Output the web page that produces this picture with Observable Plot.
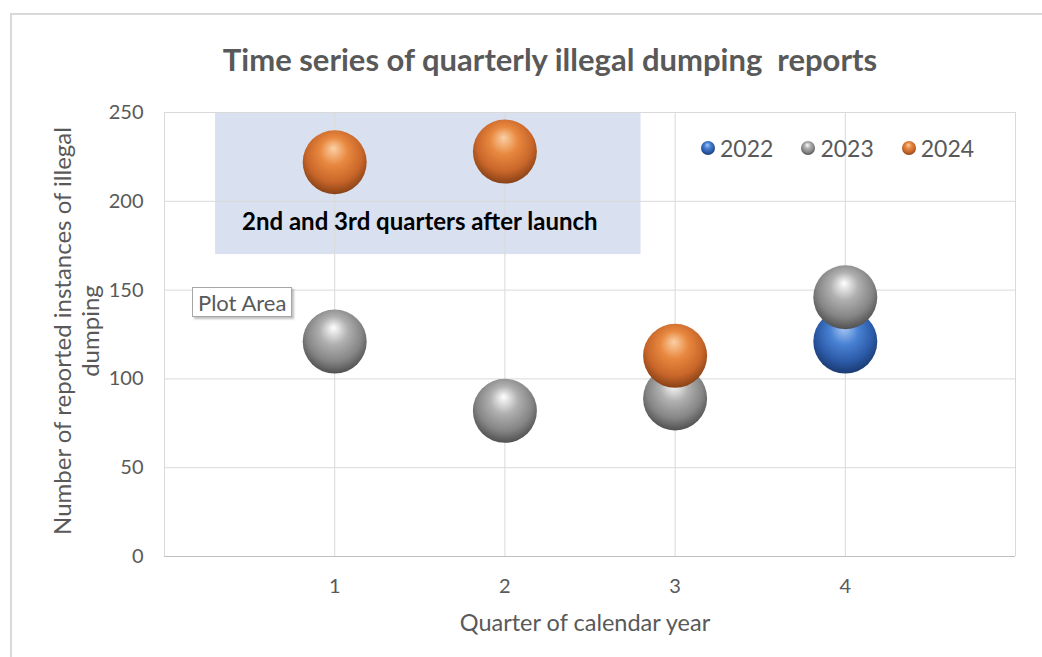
<!DOCTYPE html>
<html><head><meta charset="utf-8">
<script src="https://cdn.jsdelivr.net/npm/d3@7"></script>
<script src="https://cdn.jsdelivr.net/npm/@observablehq/plot@0.6"></script>
<style>
body{margin:0;background:#fff;}
#wrap{position:relative;width:1042px;height:657px;overflow:hidden;font-family:Lato,"Open Sans",sans-serif;background:#fff;}
#frame{position:absolute;left:10px;top:13px;width:1100px;height:700px;border:2px solid #d9d9d9;box-sizing:border-box;pointer-events:none;}
#title{position:absolute;left:0;width:1100px;top:41px;text-align:center;font-size:31px;font-weight:bold;color:#595959;white-space:pre;line-height:37px;}
#legend{position:absolute;left:700px;top:134px;display:flex;gap:27px;font-size:23px;color:#595959;}
#legend .item{display:flex;align-items:center;gap:4px;}
#tip{position:absolute;left:192px;top:287px;height:30px;line-height:30px;padding:0 5px;border:1px solid #a6a6a6;background:#fff;font-size:22px;color:#595959;box-shadow:2px 2px 2px rgba(0,0,0,0.25);box-sizing:border-box;}
#xlabel{position:absolute;left:385px;width:400px;top:607px;text-align:center;font-size:23.5px;color:#595959;line-height:30px;}
#ylabel{position:absolute;left:76px;top:331px;width:500px;transform:translate(-50%,-50%) rotate(-90deg);text-align:center;font-size:24px;color:#595959;line-height:28px;}
</style></head><body>
<div id="wrap"><div id="chart"></div><div id="frame"></div>
<div id="title">Time series of quarterly illegal dumping  reports</div>
<div id="legend"></div>
<div id="tip">Plot Area</div>
<div id="xlabel">Quarter of calendar year</div>
<div id="ylabel">Number of reported instances of illegal<br>dumping</div>
</div>
<script>
// ---- data ----
const quarters = [1, 2, 3, 4];
const years = ["2022", "2023", "2024"];
const values2022 = [null, null, null, 121];
const values2023 = [121, 82, 89, 146];
const values2024 = [222, 228, 113, null];
const xTicks = [1, 2, 3, 4];
const yTicks = [0, 50, 100, 150, 200, 250];
const highlightX = [0.3, 2.8];
const highlightY = [170, 250];
const annotationText = ["2nd and 3rd quarters after launch"];
const annotationX = [1.5];
const annotationY = [188];

const series = {"2022": values2022, "2023": values2023, "2024": values2024};
const data = [];
years.forEach(yr => quarters.forEach((q, i) => {
  if (series[yr][i] != null) data.push({year: yr, quarter: q, value: series[yr][i]});
}));
const highlight = [{x1: highlightX[0], x2: highlightX[1], y1: highlightY[0], y2: highlightY[1]}];
const annotations = annotationText.map((t, i) => ({text: t, x: annotationX[i], y: annotationY[i]}));

const font = 'Lato, "Open Sans", sans-serif';
const plot = Plot.plot({
  width: 1042, height: 657,
  marginLeft: 164, marginRight: 27, marginTop: 112, marginBottom: 101,
  style: {fontFamily: font, fontSize: "20px", color: "#595959", background: "transparent"},
  x: {domain: [0, 5]},
  y: {domain: [0, 250]},
  marks: [
    Plot.rect(highlight, {x1: "x1", x2: "x2", y1: "y1", y2: "y2", fill: "#d9e1f0"}),
    Plot.gridY(yTicks, {stroke: "#d9d9d9", strokeOpacity: 1}),
    Plot.gridX([0, ...xTicks, 5], {stroke: "#d9d9d9", strokeOpacity: 1}),
    Plot.ruleY([0], {stroke: "#bfbfbf"}),
    ...years.map(yr => Plot.dot(data.filter(d => d.year === yr), {x: "quarter", y: "value", r: 32, fill: `url(#sphere-${yr})`, stroke: "none"})),
    Plot.text(annotations, {x: "x", y: "y", text: "text", fontWeight: "bold", fontSize: 24, fill: "#000"}),
    Plot.axisX(xTicks, {tickSize: 0, tickPadding: 22, fontSize: 20, tickFormat: "d", label: null}),
    Plot.axisY(yTicks, {tickSize: 0, tickPadding: 21, fontSize: 20, tickFormat: "d", label: null})
  ]
});

const grads = {
  "2022": ["#a9c8f5", "#4a82d4", "#2c5ba8", "#173366"],
  "2023": ["#ffffff", "#b0b0b0", "#858585", "#454545"],
  "2024": ["#fbd0a6", "#e8883f", "#c9662a", "#7a3a12"]
};
const defs = d3.select(plot).insert("defs", ":first-child");
function addGrad(id, c) {
  const g = defs.append("radialGradient").attr("id", id).attr("cx", "50%").attr("cy", "42%").attr("r", "62%").attr("fx", "48%").attr("fy", "28%");
  g.append("stop").attr("offset", "0%").attr("stop-color", c[0]);
  g.append("stop").attr("offset", "35%").attr("stop-color", c[1]);
  g.append("stop").attr("offset", "70%").attr("stop-color", c[2]);
  g.append("stop").attr("offset", "100%").attr("stop-color", c[3]);
}
years.forEach(yr => addGrad(`sphere-${yr}`, grads[yr]));
document.getElementById("chart").appendChild(plot);

const legend = document.getElementById("legend");
years.forEach(yr => {
  const item = document.createElement("div");
  item.className = "item";
  item.innerHTML = `<svg width="16" height="16"><defs><radialGradient id="lg-${yr}" cx="50%" cy="42%" r="62%" fx="45%" fy="28%"><stop offset="0%" stop-color="${grads[yr][0]}"/><stop offset="35%" stop-color="${grads[yr][1]}"/><stop offset="70%" stop-color="${grads[yr][2]}"/><stop offset="100%" stop-color="${grads[yr][3]}"/></radialGradient></defs><circle cx="8" cy="8" r="7" fill="url(#lg-${yr})"/></svg><span>${yr}</span>`;
  legend.appendChild(item);
});
</script>
</body></html>
